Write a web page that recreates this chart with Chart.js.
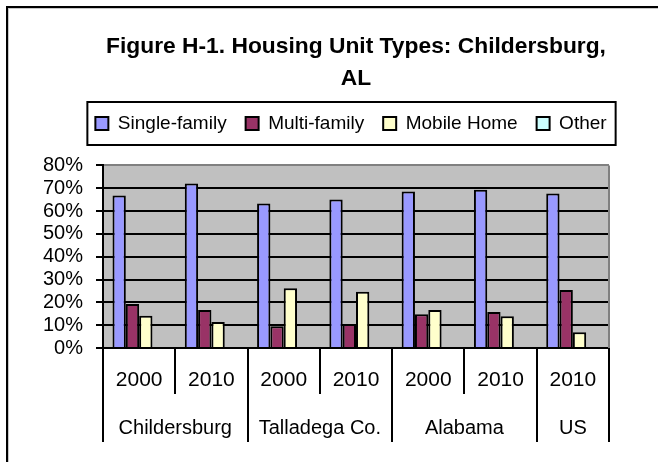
<!DOCTYPE html>
<html>
<head>
<meta charset="utf-8">
<script src="https://cdn.jsdelivr.net/npm/chart.js@4/dist/chart.umd.min.js"></script>
<style>
html,body{margin:0;padding:0;background:#fff;overflow:hidden;width:658px;height:462px}
#frame{position:absolute;left:6px;top:6px;width:900px;height:700px;border:2px solid #000;box-sizing:border-box;box-shadow:inset 1px 1px 0 #c8c8c8}
#wrap{position:absolute;left:0;top:0;width:658px;height:462px}
</style>
</head>
<body>
<div id="frame"></div>
<div id="wrap"><canvas id="c" width="658" height="462"></canvas></div>
<script>
// ---- data ----
const titleLines = ['Figure H-1. Housing Unit Types: Childersburg,', 'AL'];
const years  = ['2000', '2010', '2000', '2010', '2000', '2010', '2010'];
const places = ['Childersburg', 'Childersburg', 'Talladega Co.', 'Talladega Co.', 'Alabama', 'Alabama', 'US'];
const seriesNames = ['Single-family', 'Multi-family', 'Mobile Home', 'Other'];
const singleFamily = [66.8, 72.1, 63.3, 65.1, 68.6, 69.4, 67.7];
const multiFamily  = [19.3, 16.7, 9.5, 10.5, 14.8, 15.8, 25.4];
const mobileHome   = [14.1, 11.4, 26.2, 24.6, 16.7, 13.9, 6.9];
const otherType    = [0, 0, 0, 0, 0, 0, 0];
const yTickLabels  = ['0%', '10%', '20%', '30%', '40%', '50%', '60%', '70%', '80%'];

const FONT = "'Liberation Sans', Arial, sans-serif";
const colors = ['#9999FF', '#993366', '#FFFFCC', '#CCFFFF'];
const seriesValues = [singleFamily, multiFamily, mobileHome, otherType];

// group runs from places
const groups = [];
places.forEach((p, i) => {
  if (!groups.length || groups[groups.length - 1].name !== p) groups.push({name: p, start: i, end: i});
  else groups[groups.length - 1].end = i;
});

const decor = {
  id: 'decor',
  afterLayout(chart) {
    const lg = chart.legend;
    const dx = 351 - (lg.left + lg.right) / 2;
    const dy = 95 - lg.top;
    lg.left += dx; lg.right += dx; lg.top += dy; lg.bottom += dy;
  },
  beforeDraw(chart) {
    const {ctx, chartArea: a} = chart;
    ctx.save();
    ctx.fillStyle = '#C0C0C0';
    ctx.fillRect(a.left, a.top, a.right - a.left, a.bottom - a.top);
    ctx.restore();
  },
  beforeDatasetsDraw(chart) {
    const {ctx, chartArea: a} = chart;
    ctx.save();
    ctx.strokeStyle = '#808080';
    ctx.lineWidth = 2;
    ctx.beginPath();
    ctx.moveTo(a.right, a.top);
    ctx.lineTo(a.right, a.bottom);
    ctx.stroke();
    ctx.restore();
  },
  afterDraw(chart) {
    const {ctx, chartArea: a} = chart;
    const xs = chart.scales.x;
    ctx.save();
    // group dividers and labels
    ctx.strokeStyle = '#000';
    ctx.lineWidth = 2;
    const y0 = a.bottom + 46, y1 = a.bottom + 94;
    const bounds = [groups[0].start];
    groups.forEach(g => bounds.push(g.end + 1));
    bounds.forEach(b => {
      const x = Math.round(xs.getPixelForValue(b - 0.5));
      ctx.beginPath();
      ctx.moveTo(x, y0);
      ctx.lineTo(x, y1);
      ctx.stroke();
    });
    ctx.fillStyle = '#000';
    ctx.font = '20px ' + FONT;
    ctx.textAlign = 'center';
    ctx.textBaseline = 'middle';
    groups.forEach(g => {
      const x = (xs.getPixelForValue(g.start - 0.5) + xs.getPixelForValue(g.end + 0.5)) / 2;
      ctx.fillText(g.name, x, a.bottom + 80);
    });
    // legend frame
    const hb = chart.legend.legendHitBoxes;
    if (hb && hb.length) {
      const first = hb[0], last = hb[hb.length - 1];
      const cy = first.top + first.height / 2;
      const l = first.left - 8, r = last.left + last.width + 9;
      ctx.lineWidth = 2;
      ctx.strokeStyle = '#000';
      ctx.strokeRect(l, cy - 21.5, r - l, 43);
    }
    ctx.restore();
  }
};

new Chart(document.getElementById('c'), {
  type: 'bar',
  data: {
    labels: years,
    datasets: seriesNames.map((n, i) => ({
      label: n,
      data: seriesValues[i],
      backgroundColor: colors[i],
      borderColor: '#000',
      borderWidth: 2,
      borderSkipped: 'start',
      categoryPercentage: 0.737,
      barPercentage: 1
    }))
  },
  options: {
    responsive: false,
    devicePixelRatio: 1,
    animation: false,
    layout: {padding: {left: 9, right: 49, top: 0, bottom: 20}},
    plugins: {
      tooltip: {enabled: false},
      title: {
        display: true,
        text: titleLines,
        fullSize: false,
        color: '#000',
        font: {family: FONT, size: 22.8, weight: 'bold', lineHeight: 1.4},
        padding: {top: 31, bottom: 22.6}
      },
      legend: {
        display: true,
        position: 'top',
        labels: {
          color: '#000',
          font: {family: FONT, size: 19},
          boxWidth: 13,
          boxHeight: 13,
          padding: 19
        }
      }
    },
    scales: {
      x: {
        type: 'category',
        offset: true,
        afterFit: s => { s.height = 94; },
        grid: {
          offset: true,
          drawOnChartArea: false,
          drawTicks: true,
          tickLength: 46,
          color: '#000',
          tickColor: '#000',
          lineWidth: 2
        },
        border: {display: true, color: '#000', width: 2},
        ticks: {
          color: '#000',
          font: {family: FONT, size: 21, lineHeight: 1.2},
          padding: -26,
          maxRotation: 0,
          autoSkip: false
        }
      },
      y: {
        min: 0,
        max: 80,
        afterFit: s => { s.width = 94; },
        grid: {
          color: c => (c.tick && c.tick.value === 80) ? '#808080' : '#000',
          tickColor: '#000',
          lineWidth: 2,
          drawTicks: true,
          tickLength: 7
        },
        border: {display: true, color: '#000', width: 2},
        ticks: {
          stepSize: 10,
          autoSkip: false,
          color: '#000',
          padding: 13,
          font: {family: FONT, size: 20, lineHeight: 1},
          callback: (v, i) => yTickLabels[i]
        }
      }
    }
  },
  plugins: [decor]
});
</script>
</body>
</html>
